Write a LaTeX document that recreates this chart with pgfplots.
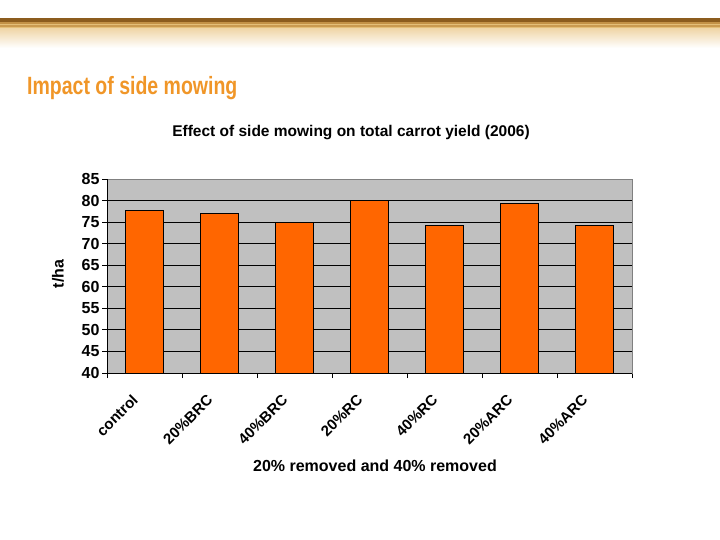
\documentclass[border=0pt]{standalone}
\usepackage{pgfplots}
\pgfplotsset{compat=1.18}
\usepackage{fontspec}
\setmainfont{Liberation Sans}
\definecolor{barorange}{RGB}{255,102,0}
\definecolor{plotgray}{RGB}{192,192,192}
\definecolor{titleorange}{RGB}{240,150,40}
\definecolor{bandbrown}{RGB}{140,92,30}
\definecolor{bandmid}{RGB}{195,145,70}
\definecolor{bandgold}{RGB}{228,190,120}
\definecolor{bandlight}{RGB}{240,215,170}
\begin{document}
\begin{tikzpicture}[x=1pt,y=1pt]
\path[use as bounding box] (0,0) rectangle (720,-540);
% header band
\fill[bandbrown] (0,-18) rectangle (720,-22);
\fill[bandmid] (0,-22) rectangle (720,-24);
\fill[bandgold] (0,-24) rectangle (720,-25.5);
\fill[bandmid!80!bandgold] (0,-25.5) rectangle (720,-27);
\fill[bandgold] (0,-27) rectangle (720,-29);
\shade[top color=bandlight, bottom color=white] (0,-29) rectangle (720,-48);
% slide title
\node[anchor=west, text=titleorange, font=\bfseries\fontsize{25}{30}\selectfont, inner sep=0pt] at (27,-88) {\scalebox{0.78}[1]{Impact of side mowing}};
% chart title
\node[font=\bfseries\fontsize{15.5}{18}\selectfont] at (351,-133) {Effect of side mowing on total carrot yield (2006)};
% axis titles
\node[font=\bfseries\fontsize{16}{19}\selectfont] at (375,-466) {20\% removed and 40\% removed};
\node[font=\bfseries\fontsize{16}{19}\selectfont, rotate=90] at (58,-274) {t/ha};
\begin{axis}[
  at={(107pt,-373pt)}, anchor=south west,
  scale only axis, width=525pt, height=194pt,
  xmin=-0.5, xmax=6.5, ymin=40, ymax=85,
  ytick={40,45,...,85},
  xtick={0,...,6},
  xticklabels={control,20\%BRC,40\%BRC,20\%RC,40\%RC,20\%ARC,40\%ARC},
  minor xtick={-0.5,0.5,...,6.5},
  major x tick style={draw=none},
  tick align=outside,
  major tick length=5pt, minor tick length=5pt,
  ytick pos=left, xtick pos=bottom,
  ymajorgrids, grid style={black, line width=0.8pt},
  minor x grid style={draw=none},
  axis background/.style={fill=plotgray},
  axis line style={draw=gray, line width=0.8pt},
  every tick/.style={black, line width=0.8pt},
  /pgf/number format/assume math mode=true,
  y tick label style={font=\bfseries\fontsize{16}{19}\selectfont, xshift=1pt},
  x tick label style={font=\bfseries\fontsize{15}{18}\selectfont, rotate=45, anchor=east, xshift=-17pt, yshift=-7pt},
  after end axis/.code={
    \draw[black, line width=0.8pt] (rel axis cs:0,1) -- (rel axis cs:0,0) -- (rel axis cs:1,0);
  },
]
\addplot[ybar, bar width=0.5, fill=barorange, draw=black, line width=0.8pt]
  coordinates {(0,77.7) (1,77.0) (2,75.0) (3,80.0) (4,74.2) (5,79.4) (6,74.2)};
\end{axis}
\end{tikzpicture}
\end{document}
